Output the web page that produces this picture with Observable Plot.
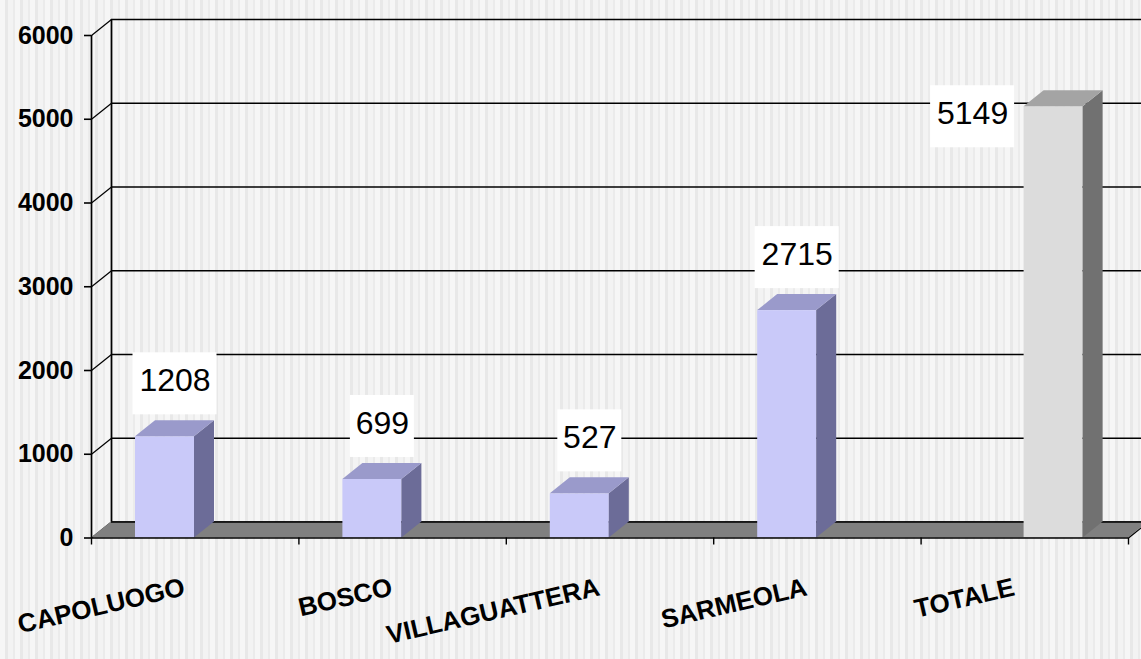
<!DOCTYPE html>
<html><head><meta charset="utf-8">
<script src="https://cdn.jsdelivr.net/npm/d3@7"></script>
<script src="https://cdn.jsdelivr.net/npm/@observablehq/plot@0.6"></script>
<style>
html,body{margin:0;padding:0;}
body{width:1141px;height:659px;overflow:hidden;
background: repeating-linear-gradient(90deg,#f6f6f6 0px,#f6f6f6 5px,#e8e8e8 5px,#e8e8e8 8px,#f3f3f3 8px,#f3f3f3 13px,#ebebeb 13px,#ebebeb 15px);}
#chart svg{display:block;background:transparent;color:#000;}
</style></head><body><div id="chart"></div>
<script>
const categories = ["CAPOLUOGO","BOSCO","VILLAGUATTERA","SARMEOLA","TOTALE"];
const values = [1208, 699, 527, 2715, 5149];
const yTicks = [0, 1000, 2000, 3000, 4000, 5000, 6000];
const seriesIndex = [0, 0, 0, 0, 1];   // TOTALE belongs to the second series

const W = 1141, H = 659, mL = 91, mR = 13, mT = 35, mB = 121.5;
const X0 = mL, X1 = W - mR, Y0 = H - mB, Y1 = mT;
const n = categories.length, yMax = 6000;
const pxX = n / (X1 - X0);      // data units per pixel (x)
const pxY = yMax / (Y0 - Y1);   // data units per pixel (y)
const ddx = 20 * pxX, ddy = 16 * pxY;   // 3D depth
const barW = 59 * pxX;

const colors = [
  {front: "#c9c9f9", side: "#6c6c98", top: "#9a9acb"},
  {front: "#dcdcdc", side: "#717171", top: "#a4a4a4"}
];

const rows = categories.map((c, i) => {
  const s = seriesIndex[i];
  const a = i + 44 * pxX + s * barW, b = a + barW, v = values[i];
  const col = colors[s];
  const over = v + 95 * pxY > yMax;
  const center = a + (barW + ddx) / 2;
  const cx = over ? center - 91 * pxX : center;
  const cy = over ? v - 7 * pxY : v + 56 * pxY;
  const label = String(v);
  const bw = (20 * label.length + 4) * pxX;
  return {i, c, v, a, b, col, cx, cy, label, bw};
});

const sidePts = rows.flatMap(r => [
  {z: r.i, x: r.b, y1: 0, y2: r.v, f: r.col.side},
  {z: r.i, x: r.b + ddx, y1: ddy, y2: r.v + ddy, f: r.col.side}
]);
const topPts = rows.flatMap(r => [
  {z: r.i, y: r.v, x1: r.a, x2: r.b, f: r.col.top},
  {z: r.i, y: r.v + ddy, x1: r.a + ddx, x2: r.b + ddx, f: r.col.top}
]);
const floorPts = [
  {y: 0, x1: 0, x2: n},
  {y: ddy, x1: ddx, x2: n + ddx}
];
const catTicks = d3.range(n + 1);

const chart = Plot.plot({
  width: W, height: H,
  marginLeft: mL, marginRight: mR, marginTop: mT, marginBottom: mB,
  x: {type: "linear", domain: [0, n], range: [X0, X1], axis: null},
  y: {type: "linear", domain: [0, yMax], range: [Y0, Y1]},
  color: {type: "identity"},
  style: {fontFamily: "Liberation Sans, Arial, sans-serif", background: "transparent", color: "#000", overflow: "hidden"},
  marks: [
    Plot.ruleY(yTicks.map(t => t + ddy), {y: d => d, x1: ddx, x2: n + 13 * pxX, stroke: "#000", strokeWidth: 1.7}),
    Plot.ruleX([ddx], {x: d => d, y1: ddy, y2: yMax + ddy, stroke: "#000", strokeWidth: 1.7}),
    Plot.ruleX([0], {x: d => d, y1: 0, y2: yMax, stroke: "#000", strokeWidth: 1.7}),
    Plot.link(yTicks, {x1: 0, y1: d => d, x2: ddx, y2: d => d + ddy, stroke: "#000", strokeWidth: 1.3}),
    Plot.areaX(floorPts, {y: "y", x1: "x1", x2: "x2", fill: "#808080"}),
    Plot.ruleY([ddy], {y: d => d, x1: ddx, x2: n + 13 * pxX, stroke: "#000", strokeWidth: 1.7}),
    Plot.link([0], {x1: n, y1: 0, x2: n + ddx, y2: ddy, stroke: "#000", strokeWidth: 1.3}),
    Plot.rect(rows, {x1: "a", x2: "b", y1: 0, y2: "v", fill: d => d.col.front}),
    Plot.areaY(sidePts, {x: "x", y1: "y1", y2: "y2", z: "z", fill: "f"}),
    Plot.areaX(topPts, {y: "y", x1: "x1", x2: "x2", z: "z", fill: "f"}),
    Plot.ruleY([0], {y: d => d, x1: 0, x2: n, stroke: "#000", strokeWidth: 1.7}),
    Plot.ruleX(catTicks, {x: d => d, y1: 0, y2: -7 * pxY, stroke: "#000", strokeWidth: 1.4}),
    Plot.rect(rows, {x1: d => d.cx - d.bw / 2, x2: d => d.cx + d.bw / 2,
      y1: d => d.cy - 34 * pxY, y2: d => d.cy + 28 * pxY, fill: "#ffffff"}),
    Plot.text(rows, {x: "cx", y: "cy", text: "label", fontSize: 32, fill: "#000"}),
    Plot.text(rows, {x: d => d.i + 0.5, y: 0, text: "c", rotate: -13, textAnchor: "end",
      lineAnchor: "bottom", dx: -9, dy: 57, fontSize: 26, fontWeight: "bold", fill: "#000"}),
    Plot.axisY(yTicks, {tickSize: 7, tickPadding: 11, fontSize: 25, fontWeight: "bold",
      tickFormat: d => String(d), stroke: "#000", strokeWidth: 1.6, fill: "#000"})
  ]
});
document.getElementById("chart").append(chart);
</script>
</body></html>
